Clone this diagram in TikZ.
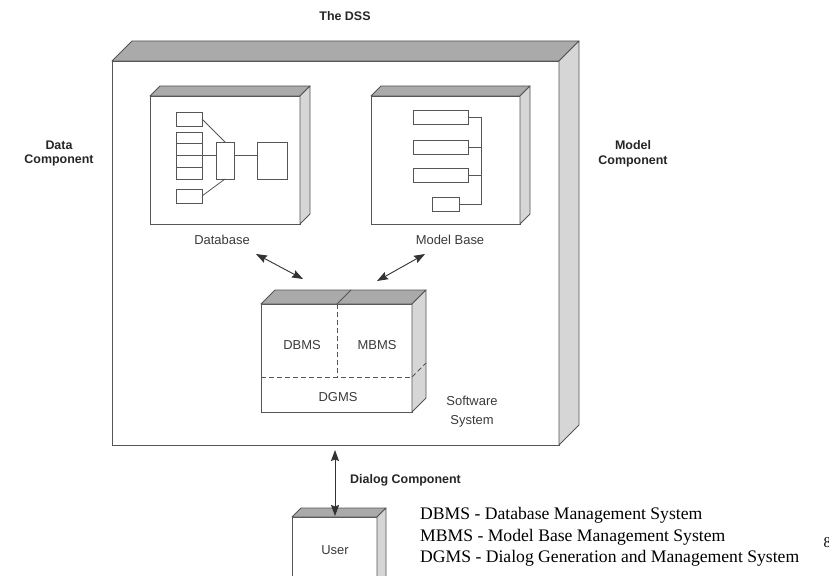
\documentclass[tikz,border=0pt]{standalone}
\usepackage{fontspec}
\setmainfont{Liberation Serif}
\newfontfamily\lsans{Liberation Sans}
\usetikzlibrary{arrows.meta,calc}

\definecolor{edge}{HTML}{555555}
\definecolor{topgray}{HTML}{AAAAAA}
\definecolor{sidegray}{HTML}{D6D6D6}
\definecolor{labgray}{HTML}{3A3A3A}

\tikzset{
  front/.style={draw=edge, line width=0.9bp, fill=white, inner sep=0pt, outer sep=0pt},
  topface/.style={draw=edge, line width=0.9bp, fill=topgray, line join=round},
  sideface/.style={draw=edge, line width=0.9bp, fill=sidegray, line join=round},
  part/.style={draw=edge, line width=0.8bp, fill=white, inner sep=0pt, outer sep=0pt},
  link/.style={draw=edge, line width=0.8bp},
  divider/.style={draw=edge, line width=0.9bp, dash pattern=on 5bp off 3bp},
  dblarrow/.style={draw=black!80, line width=0.9bp,
    {Stealth[length=11bp,width=8bp,inset=1.5bp]}-{Stealth[length=11bp,width=8bp,inset=1.5bp]}},
  boldlabel/.style={font=\lsans\bfseries\fontsize{12.5}{15}\selectfont, text=black!85, align=center, inner sep=0pt},
  label/.style={font=\lsans\fontsize{13}{19}\selectfont, text=labgray, align=center, inner sep=0pt},
  legend/.style={font=\fontsize{17.7}{21}\selectfont, text=black, anchor=west, inner sep=0pt},
}

% 3D slab: front face as a node, then the top and right faces
\newcommand\slab[6]{% name, cx, cy, width, height, depth
  \node[front, minimum width=#4bp, minimum height=#5bp] (#1) at (#2,#3) {};
  \draw[topface] (#1.north west) -- ++(#6,-#6) -- ($(#1.north east)+(#6,-#6)$) -- (#1.north east) -- cycle;
  \draw[sideface] (#1.north east) -- ++(#6,-#6) -- ($(#1.south east)+(#6,-#6)$) -- (#1.south east) -- cycle;
}

\begin{document}
\begin{tikzpicture}[x=1bp, y=-1bp]
\useasboundingbox (0,0) rectangle (829,576);
\clip (0,0) rectangle (829,576);

% the decision support system as a whole
\slab{dss}{335.5}{253}{447}{384}{20}
\node[boldlabel] (title) at (345,16) {The DSS};
\node[boldlabel] (datacomp) at (59,153.5) {Data\\Component};
\node[boldlabel] (modelcomp) at (633,153.5) {Model\\Component};

% database
\slab{db}{225}{160}{150}{128}{10}
\node[label] (dblabel) at (222,240) {Database};
\node[part, minimum width=26bp, minimum height=14bp] (t1) at (189,119) {};
\node[part, minimum width=26bp, minimum height=11.75bp] (s1) at (189,137.9) {};
\node[part, minimum width=26bp, minimum height=11.75bp] (s2) at (189,149.6) {};
\node[part, minimum width=26bp, minimum height=11.75bp] (s3) at (189,161.4) {};
\node[part, minimum width=26bp, minimum height=11.75bp] (s4) at (189,173.1) {};
\node[part, minimum width=26bp, minimum height=14bp] (t2) at (189,196) {};
\node[part, minimum width=18bp, minimum height=37bp] (mid) at (225,160.5) {};
\node[part, minimum width=30bp, minimum height=37bp] (rb) at (272,160.5) {};
\draw[link] (t1.east) -- (mid.north);
\draw[link] (t2.east) -- (mid.south);
\draw[link] (s2.south east) -- (s2.south east -| mid.west);
\draw[link] (s2.south east -| mid.east) -- (s2.south east -| rb.west);

% model base
\slab{mb}{445.5}{160}{149}{128}{10}
\node[label] (mblabel) at (450,240) {Model Base};
\node[part, minimum width=55bp, minimum height=14bp] (m1) at (440.5,117) {};
\node[part, minimum width=55bp, minimum height=14bp] (m2) at (440.5,147.5) {};
\node[part, minimum width=55bp, minimum height=14bp] (m3) at (440.5,175.5) {};
\node[part, minimum width=27bp, minimum height=14bp] (m4) at (445.5,204.5) {};
\coordinate (bus) at (481,0);
\draw[link] (m1.east) -- (m1.east -| bus) -- (m4.east -| bus) -- (m4.east);
\draw[link] (m2.east) -- (m2.east -| bus);
\draw[link] (m3.east) -- (m3.east -| bus);

% software system
\slab{sw}{336.5}{358}{151}{108}{14}
\coordinate (vdiv) at (337,304);
\coordinate (hdiv) at (261,377);
\draw[link] (vdiv) -- ++(14,-14);
\draw[divider] (vdiv) -- (vdiv |- hdiv);
\draw[divider] (hdiv) -- (hdiv -| sw.east);
\draw[divider] (hdiv -| sw.east) -- ++(14,-14);
\node[label] (dbms) at (302,345) {DBMS};
\node[label] (mbms) at (377,345) {MBMS};
\node[label] (dgms) at (338,397) {DGMS};
\node[label] (swlabel) at (472,412) {Software\\System};

% links between the parts
\coordinate (a1s) at (256,254);
\coordinate (a1e) at (303,279);
\coordinate (a2s) at (425,254);
\coordinate (a2e) at (377,281);
\draw[dblarrow] (a1s) -- (a1e);
\draw[dblarrow] (a2s) -- (a2e);

% user and dialog
\slab{user}{334.5}{558.5}{85}{83}{9}
\node[label] (userlabel) at (335,550) {User};
\coordinate (d1) at (335,450);
\coordinate (d2) at (335,516);
\draw[dblarrow] (d1) -- (d2);
\node[boldlabel, anchor=west] (dialog) at (350,480) {Dialog Component};

% legend
\node[legend] (leg1) at (420,515) {DBMS - Database Management System};
\node[legend] (leg2) at (420,537) {MBMS - Model Base Management System};
\node[legend] (leg3) at (420,558) {DGMS - Dialog Generation and Management System};
\node[legend, font=\fontsize{15}{18}\selectfont] (pagenum) at (823.5,543) {8};
\end{tikzpicture}
\end{document}
